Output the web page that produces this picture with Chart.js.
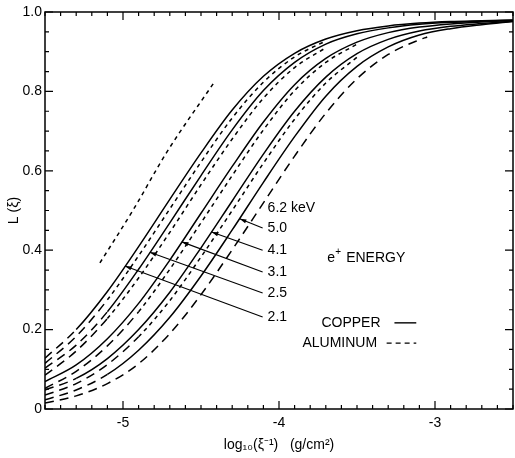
<!DOCTYPE html>
<html>
<head>
<meta charset="utf-8">
<script src="https://cdn.jsdelivr.net/npm/chart.js@4.4.1/dist/chart.umd.min.js"></script>
<style>
  html, body { margin: 0; padding: 0; background: #fff; }
</style>
</head>
<body>
<canvas id="lChart" width="515" height="458"></canvas>
<script>
// valeurs : L(xi) en fonction de log10(1/xi)
const xGrid = [-5.5, -5.3, -5.1, -4.9, -4.7, -4.5, -4.3, -4.1, -3.9, -3.7, -3.5, -3.3, -3.1, -2.9, -2.7, -2.5];

// cuivre (trait plein)
const cu21 = [0.128, 0.200, 0.296, 0.409, 0.528, 0.645, 0.753, 0.838, 0.896, 0.932, 0.953, 0.965, 0.972, 0.976, 0.978, 0.980];
const cu25 = [0.103, 0.161, 0.245, 0.352, 0.469, 0.588, 0.703, 0.802, 0.873, 0.919, 0.945, 0.960, 0.969, 0.974, 0.977, 0.979];
const cu31 = [0.069, 0.111, 0.177, 0.266, 0.375, 0.493, 0.611, 0.723, 0.817, 0.883, 0.924, 0.948, 0.962, 0.970, 0.975, 0.978];
const cu41 = [0.048, 0.077, 0.127, 0.200, 0.294, 0.406, 0.524, 0.642, 0.750, 0.836, 0.895, 0.931, 0.952, 0.964, 0.971, 0.977];
const cu50 = [0.023, 0.048, 0.087, 0.148, 0.231, 0.335, 0.451, 0.571, 0.686, 0.788, 0.863, 0.912, 0.942, 0.958, 0.968, 0.976];

// 6.2 keV (tirets longs)
const e62x = [-5.5, -5.3, -5.1, -4.9, -4.7, -4.5, -4.3, -4.1, -3.9, -3.7, -3.5, -3.3, -3.1, -3.05];
const e62 = [0.015, 0.033, 0.064, 0.114, 0.190, 0.288, 0.401, 0.519, 0.637, 0.745, 0.832, 0.893, 0.930, 0.937];

// aluminium (tirets courts)
const al21 = [0.115, 0.183, 0.275, 0.386, 0.504, 0.622, 0.733, 0.823, 0.887, 0.927];
const al25 = [0.085, 0.146, 0.228, 0.330, 0.445, 0.565, 0.680, 0.783, 0.860, 0.910];
const al31 = [0.052, 0.095, 0.159, 0.245, 0.352, 0.469, 0.588, 0.703, 0.802, 0.873, 0.919];
const al41 = [0.035, 0.064, 0.112, 0.182, 0.273, 0.383, 0.500, 0.619, 0.730, 0.821, 0.886];

// courbe isolee en haut a gauche
const sepX = [-5.148, -4.937, -4.719, -4.419];
const sepY = [0.368, 0.500, 0.647, 0.821];

// debut des mesures (a gauche : extrapolation en tirets longs)
const cuStart = [-5.2, -5.1, -5.5, -5.2, -5.0];
const alStart = [-5.1, -5.0, -4.9, -4.8];

const energies = ['6.2 keV', '5.0', '4.1', '3.1', '2.5', '2.1'];
const labelY = [0.506, 0.456, 0.400, 0.345, 0.292, 0.232];
const arrowTipX = [null, -4.252, -4.432, -4.623, -4.828, -4.988];
const arrowTipY = [null, 0.479, 0.446, 0.421, 0.395, 0.360];

const xTickVals = [-5, -4, -3];
const yTickVals = [0, 0.2, 0.4, 0.6, 0.8, 1.0];

const FONT = 'Liberation Sans';

function pts(xs, ys) {
  return ys.map((y, i) => ({ x: xs[i], y: y }));
}

function curve(xs, ys, start, dash) {
  return {
    data: pts(xs, ys),
    borderColor: '#000',
    borderWidth: 1.5,
    pointRadius: 0,
    fill: false,
    cubicInterpolationMode: 'monotone',
    borderDash: dash,
    segment: {
      borderDash: ctx => (ctx.p1.parsed.x <= start + 0.001 ? [9, 6] : dash)
    }
  };
}

const datasets = [
  curve(xGrid, cu21, cuStart[0], []),
  curve(xGrid, cu25, cuStart[1], []),
  curve(xGrid, cu31, cuStart[2], []),
  curve(xGrid, cu41, cuStart[3], []),
  curve(xGrid, cu50, cuStart[4], []),
  curve(e62x, e62, 0, [9, 6]),
  curve(xGrid, al21, alStart[0], [4, 4]),
  curve(xGrid, al25, alStart[1], [4, 4]),
  curve(xGrid, al31, alStart[2], [4, 4]),
  curve(xGrid, al41, alStart[3], [4, 4]),
  curve(sepX, sepY, -9, [4, 4])
];

// cadre, graduations vers l'interieur, etiquettes et legende
const decor = {
  id: 'decor',
  afterDraw(chart) {
    const c = chart.ctx;
    const a = chart.chartArea;
    const xs = chart.scales.x, ys = chart.scales.y;
    c.save();
    c.strokeStyle = '#000';
    c.fillStyle = '#000';
    c.lineWidth = 1.5;
    c.strokeRect(a.left, a.top, a.right - a.left, a.bottom - a.top);
    c.lineWidth = 1.2;
    c.beginPath();
    for (let i = -55; i <= -25; i++) {
      const px = xs.getPixelForValue(i / 10);
      const len = i % 10 === 0 ? 8 : 4;
      c.moveTo(px, a.bottom); c.lineTo(px, a.bottom - len);
      c.moveTo(px, a.top); c.lineTo(px, a.top + len);
    }
    for (let i = 0; i <= 20; i++) {
      const py = ys.getPixelForValue(i / 20);
      const len = i % 4 === 0 ? 8 : 4;
      c.moveTo(a.left, py); c.lineTo(a.left + len, py);
      c.moveTo(a.right, py); c.lineTo(a.right - len, py);
    }
    c.stroke();

    // etiquettes d'energie et fleches
    c.font = '14px "' + FONT + '"';
    c.textBaseline = 'middle';
    c.textAlign = 'left';
    const lx = xs.getPixelForValue(-4.073);
    const ex = xs.getPixelForValue(-4.105);
    c.lineWidth = 1.1;
    energies.forEach((t, i) => {
      const ly = ys.getPixelForValue(labelY[i]);
      c.fillText(t, lx, ly);
      if (arrowTipX[i] === null) return;
      const tx = xs.getPixelForValue(arrowTipX[i]);
      const ty = ys.getPixelForValue(arrowTipY[i]);
      c.beginPath();
      c.moveTo(ex, ly); c.lineTo(tx, ty);
      c.stroke();
      const ang = Math.atan2(ty - ly, tx - ex);
      c.beginPath();
      c.moveTo(tx, ty);
      c.lineTo(tx - 7 * Math.cos(ang - 0.3), ty - 7 * Math.sin(ang - 0.3));
      c.lineTo(tx - 7 * Math.cos(ang + 0.3), ty - 7 * Math.sin(ang + 0.3));
      c.closePath();
      c.fill();
    });

    // e+ ENERGY
    const epx = xs.getPixelForValue(-3.69), epy = ys.getPixelForValue(0.38);
    c.fillText('e', epx, epy);
    const ew = c.measureText('e').width;
    c.font = '10px "' + FONT + '"';
    c.fillText('+', epx + ew, epy - 6);
    c.font = '14px "' + FONT + '"';
    c.fillText('ENERGY', epx + ew + 11, epy);

    // legende
    const cy = ys.getPixelForValue(0.217), ay = ys.getPixelForValue(0.166);
    c.fillText('COPPER', xs.getPixelForValue(-3.728), cy);
    c.fillText('ALUMINUM', xs.getPixelForValue(-3.85), ay);
    c.lineWidth = 1.4;
    c.beginPath();
    c.moveTo(xs.getPixelForValue(-3.26), cy); c.lineTo(xs.getPixelForValue(-3.12), cy);
    c.stroke();
    c.setLineDash([5, 4]);
    c.beginPath();
    c.moveTo(xs.getPixelForValue(-3.31), ay); c.lineTo(xs.getPixelForValue(-3.12), ay);
    c.stroke();
    c.restore();
  }
};

const chart = new Chart(document.getElementById('lChart').getContext('2d'), {
  type: 'line',
  data: { datasets: datasets },
  options: {
    responsive: false,
    animation: false,
    devicePixelRatio: 1,
    layout: { padding: { top: 12, right: 2, left: 0, bottom: 0 } },
    plugins: { legend: { display: false }, tooltip: { enabled: false } },
    scales: {
      x: {
        type: 'linear',
        min: -5.5,
        max: -2.5,
        grid: { display: false, drawTicks: false },
        border: { display: false },
        afterBuildTicks: s => { s.ticks = xTickVals.map(v => ({ value: v })); },
        afterFit: s => { s.height = 49; },
        ticks: {
          color: '#000',
          padding: 6,
          font: { family: FONT, size: 14 },
          callback: v => String(v)
        },
        title: {
          display: true,
          text: 'log\u2081\u2080(\u03BE\u207B\u00B9)   (g/cm\u00B2)',
          color: '#000',
          font: { family: FONT, size: 14 },
          padding: { top: 0, bottom: 4 }
        }
      },
      y: {
        min: 0,
        max: 1,
        grid: { display: false, drawTicks: false },
        border: { display: false },
        afterBuildTicks: s => { s.ticks = yTickVals.map(v => ({ value: v })); },
        afterFit: s => { s.width = 45; },
        ticks: {
          color: '#000',
          padding: 3,
          font: { family: FONT, size: 14 },
          callback: v => (v === 0 ? '0' : v.toFixed(1))
        },
        title: {
          display: true,
          text: 'L (\u03BE)',
          color: '#000',
          font: { family: FONT, size: 14 },
          padding: { top: 6, bottom: 0 }
        }
      }
    }
  },
  plugins: [decor]
});
</script>
</body>
</html>
